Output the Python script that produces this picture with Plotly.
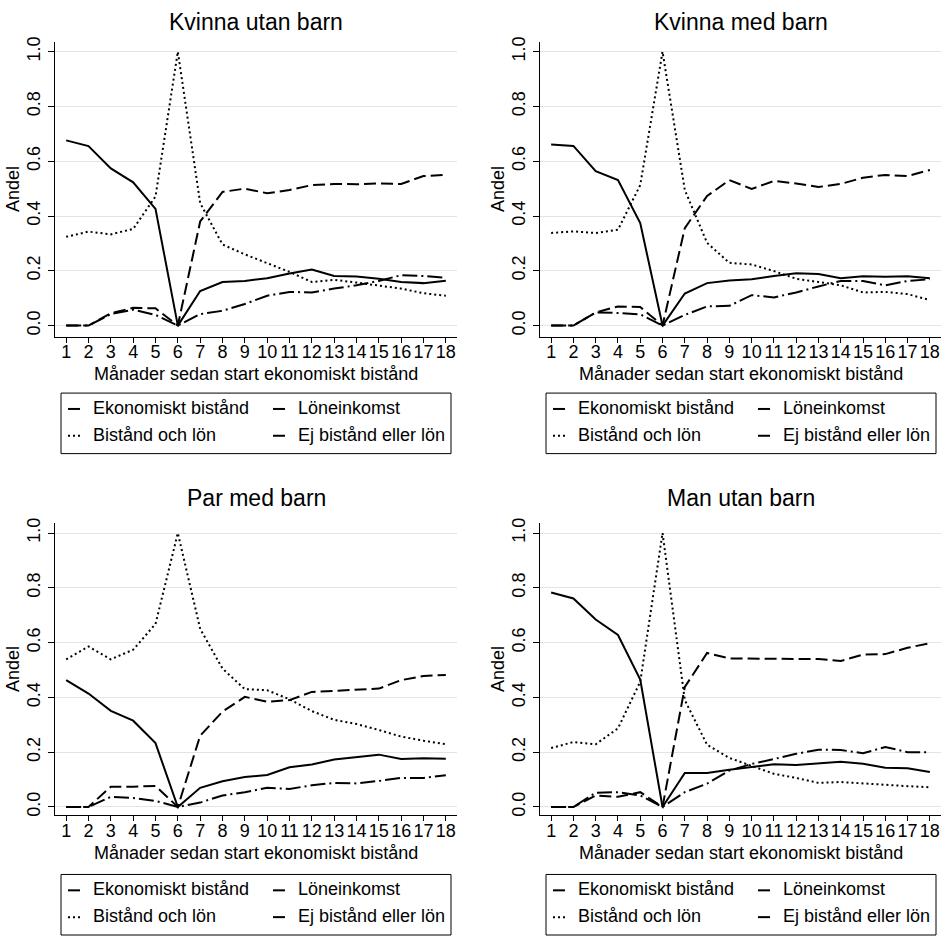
import plotly.graph_objects as go

# Andel per månad sedan start av ekonomiskt bistånd, fyra hushållstyper
manader = list(range(1, 19))
grupper = ["Kvinna utan barn", "Kvinna med barn", "Par med barn", "Man utan barn"]
serier = ["Ekonomiskt bistånd", "Löneinkomst", "Bistånd och lön", "Ej bistånd eller lön"]
y_ticks = [0.0, 0.2, 0.4, 0.6, 0.8, 1.0]
y_ticktext = ["0.0", "0.2", "0.4", "0.6", "0.8", "1.0"]
x_titel = "Månader sedan start ekonomiskt bistånd"
y_titel = "Andel"

# Kvinna utan barn
kub_ekonomiskt = [0.676, 0.655, 0.574, 0.523, 0.426, 0.0, 0.126, 0.159, 0.163, 0.173, 0.190, 0.205, 0.181, 0.179, 0.171, 0.159, 0.155, 0.164]
kub_lon = [0.0, 0.0, 0.045, 0.065, 0.063, 0.0, 0.380, 0.488, 0.500, 0.483, 0.495, 0.513, 0.517, 0.516, 0.519, 0.517, 0.546, 0.550]
kub_bistand_lon = [0.324, 0.343, 0.333, 0.353, 0.471, 1.0, 0.447, 0.296, 0.260, 0.229, 0.196, 0.159, 0.167, 0.157, 0.145, 0.135, 0.118, 0.109]
kub_ej = [0.0, 0.0, 0.042, 0.058, 0.039, 0.0, 0.042, 0.054, 0.079, 0.109, 0.123, 0.121, 0.135, 0.147, 0.163, 0.184, 0.181, 0.175]

# Kvinna med barn
kmb_ekonomiskt = [0.661, 0.656, 0.564, 0.531, 0.374, 0.0, 0.117, 0.155, 0.165, 0.169, 0.181, 0.191, 0.188, 0.173, 0.180, 0.178, 0.180, 0.173]
kmb_lon = [0.0, 0.0, 0.048, 0.070, 0.068, 0.0, 0.356, 0.473, 0.531, 0.499, 0.528, 0.519, 0.506, 0.517, 0.540, 0.550, 0.546, 0.568]
kmb_bistand_lon = [0.338, 0.344, 0.338, 0.350, 0.513, 1.0, 0.495, 0.302, 0.229, 0.223, 0.199, 0.171, 0.159, 0.147, 0.121, 0.123, 0.115, 0.093]
kmb_ej = [0.0, 0.0, 0.048, 0.046, 0.041, 0.0, 0.039, 0.070, 0.072, 0.111, 0.103, 0.121, 0.143, 0.163, 0.163, 0.147, 0.163, 0.169]

# Par med barn
pmb_ekonomiskt = [0.463, 0.414, 0.351, 0.315, 0.233, 0.0, 0.070, 0.094, 0.109, 0.117, 0.145, 0.155, 0.173, 0.181, 0.191, 0.175, 0.178, 0.176]
pmb_lon = [0.0, 0.0, 0.074, 0.074, 0.077, 0.0, 0.260, 0.348, 0.402, 0.384, 0.390, 0.420, 0.424, 0.429, 0.432, 0.463, 0.478, 0.482]
pmb_bistand_lon = [0.539, 0.586, 0.539, 0.574, 0.668, 1.0, 0.650, 0.505, 0.430, 0.426, 0.393, 0.350, 0.318, 0.303, 0.281, 0.257, 0.242, 0.229]
pmb_ej = [0.0, 0.0, 0.037, 0.033, 0.022, 0.0, 0.016, 0.042, 0.054, 0.070, 0.066, 0.079, 0.088, 0.086, 0.095, 0.106, 0.106, 0.116]

# Man utan barn
mub_ekonomiskt = [0.783, 0.761, 0.684, 0.628, 0.465, 0.0, 0.124, 0.124, 0.136, 0.146, 0.156, 0.153, 0.158, 0.165, 0.158, 0.143, 0.141, 0.128]
mub_lon = [0.0, 0.0, 0.042, 0.037, 0.054, 0.0, 0.438, 0.562, 0.542, 0.542, 0.542, 0.542, 0.540, 0.533, 0.556, 0.558, 0.581, 0.598]
mub_bistand_lon = [0.215, 0.237, 0.229, 0.287, 0.457, 1.0, 0.390, 0.227, 0.179, 0.149, 0.121, 0.106, 0.088, 0.091, 0.087, 0.081, 0.076, 0.072]
mub_ej = [0.0, 0.0, 0.052, 0.054, 0.042, 0.0, 0.054, 0.085, 0.133, 0.157, 0.175, 0.194, 0.209, 0.208, 0.196, 0.219, 0.200, 0.200]

W, H = 944, 937
FONT = "Liberation Sans, Arial, Helvetica, sans-serif"
INK = "#000000"
GRID = "#e4e4e4"

# line style for each series
DASH = {
    "Ekonomiskt bistånd": "solid",
    "Löneinkomst": "12px,5px",
    "Bistånd och lön": "2px,3px",
    "Ej bistånd eller lön": "15px,4px,2px,4px",
}


def fx(p):
    return p / W


def fy(p):
    return 1 - p / H


data = {
    "Kvinna utan barn": [kub_ekonomiskt, kub_lon, kub_bistand_lon, kub_ej],
    "Kvinna med barn": [kmb_ekonomiskt, kmb_lon, kmb_bistand_lon, kmb_ej],
    "Par med barn": [pmb_ekonomiskt, pmb_lon, pmb_bistand_lon, pmb_ej],
    "Man utan barn": [mub_ekonomiskt, mub_lon, mub_bistand_lon, mub_ej],
}

# panel frames in pixels: columns (left, right), rows (top, bottom, value 0 line, value 1 line)
col_x = [(55, 457), (540, 941)]
rows = [
    dict(top=37, bottom=334, y0=323, y1=47, title=17, xtitle=372, box=391),
    dict(top=522, bottom=816, y0=808, y1=532, title=497, xtitle=854, box=876),
]

fig = go.Figure()
shapes = []
annotations = []


def text(s, x, y, size, **kw):
    annotations.append(dict(
        text=s, x=fx(x), y=fy(y), xref="paper", yref="paper",
        showarrow=False, font=dict(family=FONT, size=size, color=INK), **kw,
    ))


for i, grupp in enumerate(grupper):
    r, c = divmod(i, 2)
    x0, x1 = col_x[c]
    row = rows[r]
    n = "" if i == 0 else str(i + 1)
    xa, ya = "x" + n, "y" + n

    for namn, vals in zip(serier, data[grupp]):
        fig.add_trace(go.Scatter(
            x=manader, y=vals, name=namn, mode="lines",
            line=dict(color=INK, width=2, dash=DASH[namn]),
            xaxis=xa, yaxis=ya, showlegend=False,
        ))

    # value range so that 0 and 1 land on their gridline positions
    unit = row["y0"] - row["y1"]
    lo = -(row["bottom"] - row["y0"]) / unit
    hi = 1 + (row["y1"] - row["top"]) / unit

    fig.layout["xaxis" + n] = dict(
        domain=[fx(x0), fx(x1)], anchor=ya, range=[0.5, 18.5],
        tickmode="array", tickvals=manader, ticks="outside", ticklen=5,
        tickcolor=INK, showline=True, linecolor=INK, linewidth=1,
        showgrid=False, zeroline=False, fixedrange=True,
        tickfont=dict(family=FONT, size=18, color=INK),
        ticklabelstandoff=-6,
    )
    fig.layout["yaxis" + n] = dict(
        domain=[fy(row["bottom"]), fy(row["top"])], anchor=xa, range=[lo, hi],
        tickmode="array", tickvals=y_ticks, ticktext=y_ticktext,
        tickangle=-90, ticks="outside", ticklen=6, tickcolor=INK,
        showline=True, linecolor=INK, linewidth=1,
        showgrid=True, gridcolor=GRID, gridwidth=1, zeroline=False,
        fixedrange=True,
        tickfont=dict(family=FONT, size=18, color=INK),
        ticklabelstandoff=1,
    )

    # panel title and axis titles
    text(grupp, (x0 + x1) / 2, row["title"], 23, xanchor="center", yanchor="middle")
    text(x_titel, (x0 + x1) / 2, row["xtitle"], 18, xanchor="center", yanchor="middle")
    text(y_titel, x0 - 42, (row["top"] + row["bottom"]) / 2, 18,
         xanchor="center", yanchor="middle", textangle=-90)

    # legend box under each panel
    bx0 = x0 + 6
    bx1 = bx0 + 390
    by0 = row["box"]
    by1 = by0 + 61
    shapes.append(dict(
        type="rect", xref="paper", yref="paper",
        x0=fx(bx0), x1=fx(bx1), y0=fy(by1), y1=fy(by0),
        line=dict(color=INK, width=1), fillcolor="rgba(0,0,0,0)",
    ))
    slots = [(0, 0), (1, 0), (0, 1), (1, 1)]  # (column, row) for each series
    for namn, (lc, lr) in zip(serier, slots):
        sx = bx0 + (7 if lc == 0 else 212)
        sy = by0 + (15 if lr == 0 else 42)
        shapes.append(dict(
            type="line", xref="paper", yref="paper",
            x0=fx(sx), x1=fx(sx + 12), y0=fy(sy + 1), y1=fy(sy + 1),
            line=dict(color=INK, width=2, dash=DASH[namn]),
        ))
        text(namn, sx + 23, sy, 18, xanchor="left", yanchor="middle")

fig.update_layout(
    width=W, height=H,
    margin=dict(l=0, r=0, t=0, b=0),
    paper_bgcolor="white", plot_bgcolor="white",
    showlegend=False,
    shapes=shapes, annotations=annotations,
    font=dict(family=FONT, size=18, color=INK),
)

fig.write_html("out.html")
